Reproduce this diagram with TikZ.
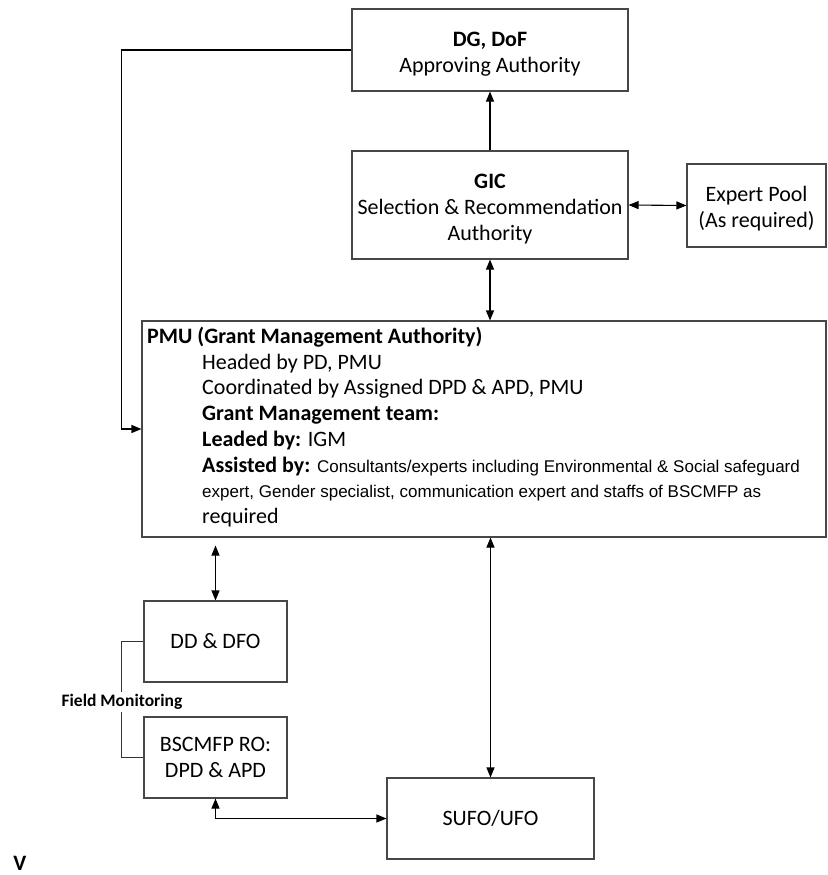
\documentclass[tikz,border=0pt]{standalone}
\usepackage{fontspec}
\setmainfont{Carlito}
\newfontfamily\arialfont{Liberation Sans}
\usetikzlibrary{arrows.meta}
\newcommand\mytstrut{\rule{0pt}{22pt}}
\begin{document}
\begin{tikzpicture}[x=1pt,y=-1pt,
  box/.style={draw=black!72, line width=1.1pt, rectangle, inner sep=0pt, align=center,
    font=\fontsize{22}{26}\selectfont},
  conn/.style={line width=1.1pt, draw=black},
  >={Triangle[length=10pt,width=8pt]}
]
\useasboundingbox (0,0) rectangle (827,875);

\node[box, minimum width=276pt, minimum height=82pt] (dg) at (490,50)
  {\mytstrut\textbf{DG, DoF}\\Approving Authority};
\node[box, minimum width=276pt, minimum height=108pt] (gic) at (490,205)
  {\mytstrut\textbf{GIC}\\Selection \& Recommendation\\Authority};
\node[box, minimum width=139pt, minimum height=83pt] (expert) at (756.5,205.5)
  {\mytstrut Expert Pool\\(As required)};
\node[box, minimum width=684pt, minimum height=216pt] (pmu) at (484,429) {};
\node[anchor=north west, inner sep=0pt, align=left, font=\fontsize{22}{25.7}\selectfont] (pmutext) at (147,327)
  {\textbf{PMU (Grant Management Authority)}\\
   \hspace*{55pt}Headed by PD, PMU\\
   \hspace*{55pt}Coordinated by Assigned DPD \& APD, PMU\\
   \hspace*{55pt}\textbf{Grant Management team:}\\
   \hspace*{55pt}\textbf{Leaded by:} IGM\\
   \hspace*{55pt}\textbf{Assisted by:} {\arialfont\fontsize{17}{25.7}\selectfont Consultants/experts including Environmental \& Social safeguard}\\
   \hspace*{55pt}{\arialfont\fontsize{17}{25.7}\selectfont expert, Gender specialist, communication expert and staffs of BSCMFP as}\\
   \hspace*{55pt}required};
\node[box, minimum width=143pt, minimum height=81pt] (dd) at (215.5,641.5) {DD \& DFO};
\node[box, minimum width=143pt, minimum height=81pt] (bsc) at (215.5,757.5) {BSCMFP RO:\\DPD \& APD};
\node[box, minimum width=207pt, minimum height=81pt] (sufo) at (490.5,818.5) {SUFO/UFO};

\draw[conn,->] (gic.north) -- (dg.south);
\draw[conn,<->] (gic.east) -- (expert.west);
\draw[conn,<->] (gic.south) -- (gic.south |- pmu.north);
\draw[conn,->] (dg.west) -| ([xshift=-20pt]pmu.west) -- (pmu.west);
\draw[conn,<->,shorten <=8pt] (dd.north |- pmu.south) -- (dd.north);
\draw[conn,<->] (sufo.north |- pmu.south) -- (sufo.north);
\draw[conn,<->] (bsc.south) |- (sufo.west);

\draw[line width=0.9pt, black!80] (dd.west) -- ++(-22,0) |- (bsc.west);
\node[fill=white, inner sep=2pt, font=\bfseries\fontsize{17.5}{20}\selectfont] (fm) at (122,702) {Field Monitoring};

\node[anchor=base, inner sep=0pt, font=\bfseries\fontsize{22}{26}\selectfont] (v) at (20,870) {V};
\end{tikzpicture}
\end{document}
